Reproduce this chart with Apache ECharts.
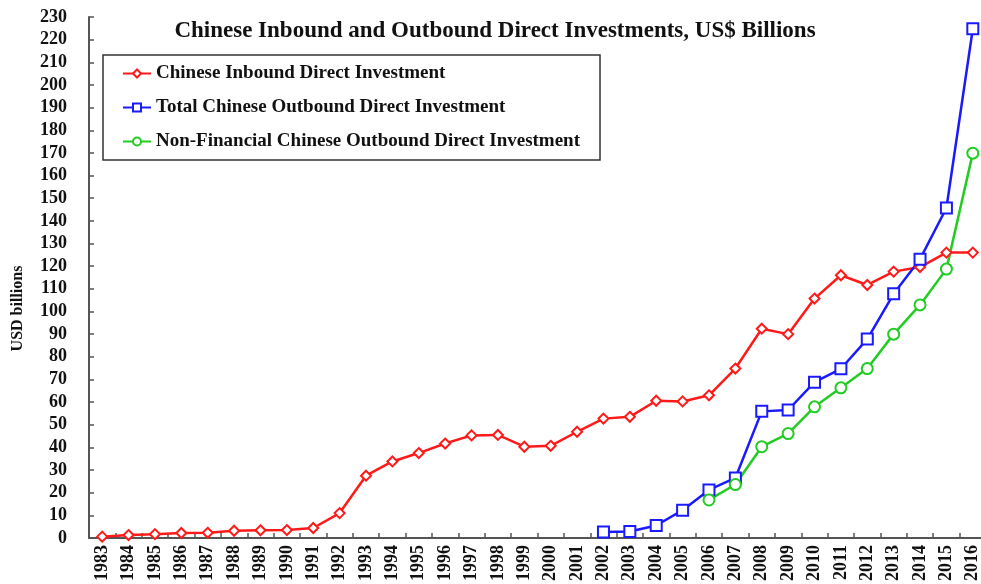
<!DOCTYPE html>
<html>
<head>
<meta charset="utf-8">
<script src="https://cdn.jsdelivr.net/npm/echarts@6/dist/echarts.min.js"></script>
<style>
  html, body { margin: 0; padding: 0; background: #fff; }
  #wrap { width: 981px; height: 584px; overflow: hidden; position: relative; }
  /* the plot runs slightly past the right edge of the view, so the canvas is a bit wider */
  #chart { width: 990px; height: 584px; position: absolute; left: 0; top: 0; }
</style>
</head>
<body>
<div id="wrap"><div id="chart"></div></div>
<script>
// Years on the category axis
const years = ['1983','1984','1985','1986','1987','1988','1989','1990','1991','1992',
  '1993','1994','1995','1996','1997','1998','1999','2000','2001','2002','2003','2004',
  '2005','2006','2007','2008','2009','2010','2011','2012','2013','2014','2015','2016'];

// Chinese inbound direct investment, USD billions
const inbound = [0.6, 1.3, 1.7, 2.2, 2.3, 3.2, 3.4, 3.5, 4.4, 11.0,
  27.5, 33.8, 37.5, 41.7, 45.3, 45.5, 40.3, 40.7, 46.9, 52.7, 53.5, 60.6,
  60.3, 63.0, 74.8, 92.4, 90.0, 105.7, 116.0, 111.7, 117.6, 119.6, 126.0, 126.0];

// Total Chinese outbound direct investment (reported from 2002)
const outboundTotal = [null, null, null, null, null, null, null, null, null, null,
  null, null, null, null, null, null, null, null, null, 2.7, 2.9, 5.5,
  12.3, 21.2, 26.5, 55.9, 56.5, 68.8, 74.7, 87.8, 107.8, 123.1, 145.7, 224.8];

// Non-financial Chinese outbound direct investment (reported from 2006)
const outboundNonFin = [null, null, null, null, null, null, null, null, null, null,
  null, null, null, null, null, null, null, null, null, null, null, null,
  null, 16.8, 23.6, 40.3, 46.1, 57.9, 66.3, 74.8, 90.0, 102.9, 118.7, 169.9];

const seriesNames = [
  'Chinese Inbound Direct Investment',
  'Total Chinese Outbound Direct Investment',
  'Non-Financial Chinese Outbound Direct Investment'
];

const serif = '"Liberation Serif", "Times New Roman", serif';
const axisColor = '#555';

function lineSeries(name, data, color, symbol, size) {
  return {
    name: name,
    type: 'line',
    data: data,
    color: color,
    symbol: symbol,
    symbolSize: size,
    showAllSymbol: true,
    connectNulls: false,
    lineStyle: { width: 2.5, color: color },
    itemStyle: { color: color, borderColor: color, borderWidth: 1.5 }
  };
}

const chart = echarts.init(document.getElementById('chart'), null, { renderer: 'canvas' });
chart.setOption({
  animation: false,
  backgroundColor: '#fff',
  title: {
    text: 'Chinese Inbound and Outbound Direct Investments, US$ Billions',
    left: 'center',
    top: 15,
    textStyle: { fontFamily: serif, fontWeight: 'bold', fontSize: 23, color: '#111' }
  },
  legend: {
    orient: 'vertical',
    left: 103,
    top: 55,
    padding: [9, 20, 9, 19],
    itemGap: 15,
    itemWidth: 28,
    itemHeight: 10,
    borderColor: '#333',
    borderWidth: 1.5,
    data: seriesNames,
    textStyle: { fontFamily: serif, fontWeight: 'bold', fontSize: 19, color: '#111', lineHeight: 18 }
  },
  grid: { left: 89, right: 4, top: 17, bottom: 43, containLabel: false },
  xAxis: {
    type: 'category',
    data: years,
    boundaryGap: true,
    axisLine: { lineStyle: { color: axisColor, width: 2 } },
    axisTick: { show: true, inside: true, length: 5, alignWithLabel: false, lineStyle: { color: axisColor, width: 1.5 } },
    axisLabel: {
      rotate: 90, interval: 0, margin: 7,
      fontFamily: serif, fontWeight: 'bold', fontSize: 18, color: '#111'
    },
    splitLine: { show: false }
  },
  yAxis: {
    type: 'value',
    min: 0, max: 230, interval: 10,
    name: 'USD billions',
    nameLocation: 'middle',
    nameRotate: 90,
    nameGap: 63,
    nameTextStyle: {
      fontFamily: serif, fontWeight: 'bold', fontSize: 16, color: '#111',
      padding: [0, 62, 0, 0]
    },
    axisLine: { show: true, lineStyle: { color: axisColor, width: 2 } },
    axisTick: { show: true, inside: true, length: 5, lineStyle: { color: axisColor, width: 1.5 } },
    axisLabel: { margin: 22, fontFamily: serif, fontWeight: 'bold', fontSize: 18, color: '#111' },
    splitLine: { show: false }
  },
  series: [
    lineSeries(seriesNames[0], inbound, '#ff1a1a', 'emptyDiamond', 10),
    lineSeries(seriesNames[1], outboundTotal, '#1a1aff', 'emptyRect', 11),
    lineSeries(seriesNames[2], outboundNonFin, '#22cc22', 'emptyCircle', 11)
  ]
});
</script>
</body>
</html>
